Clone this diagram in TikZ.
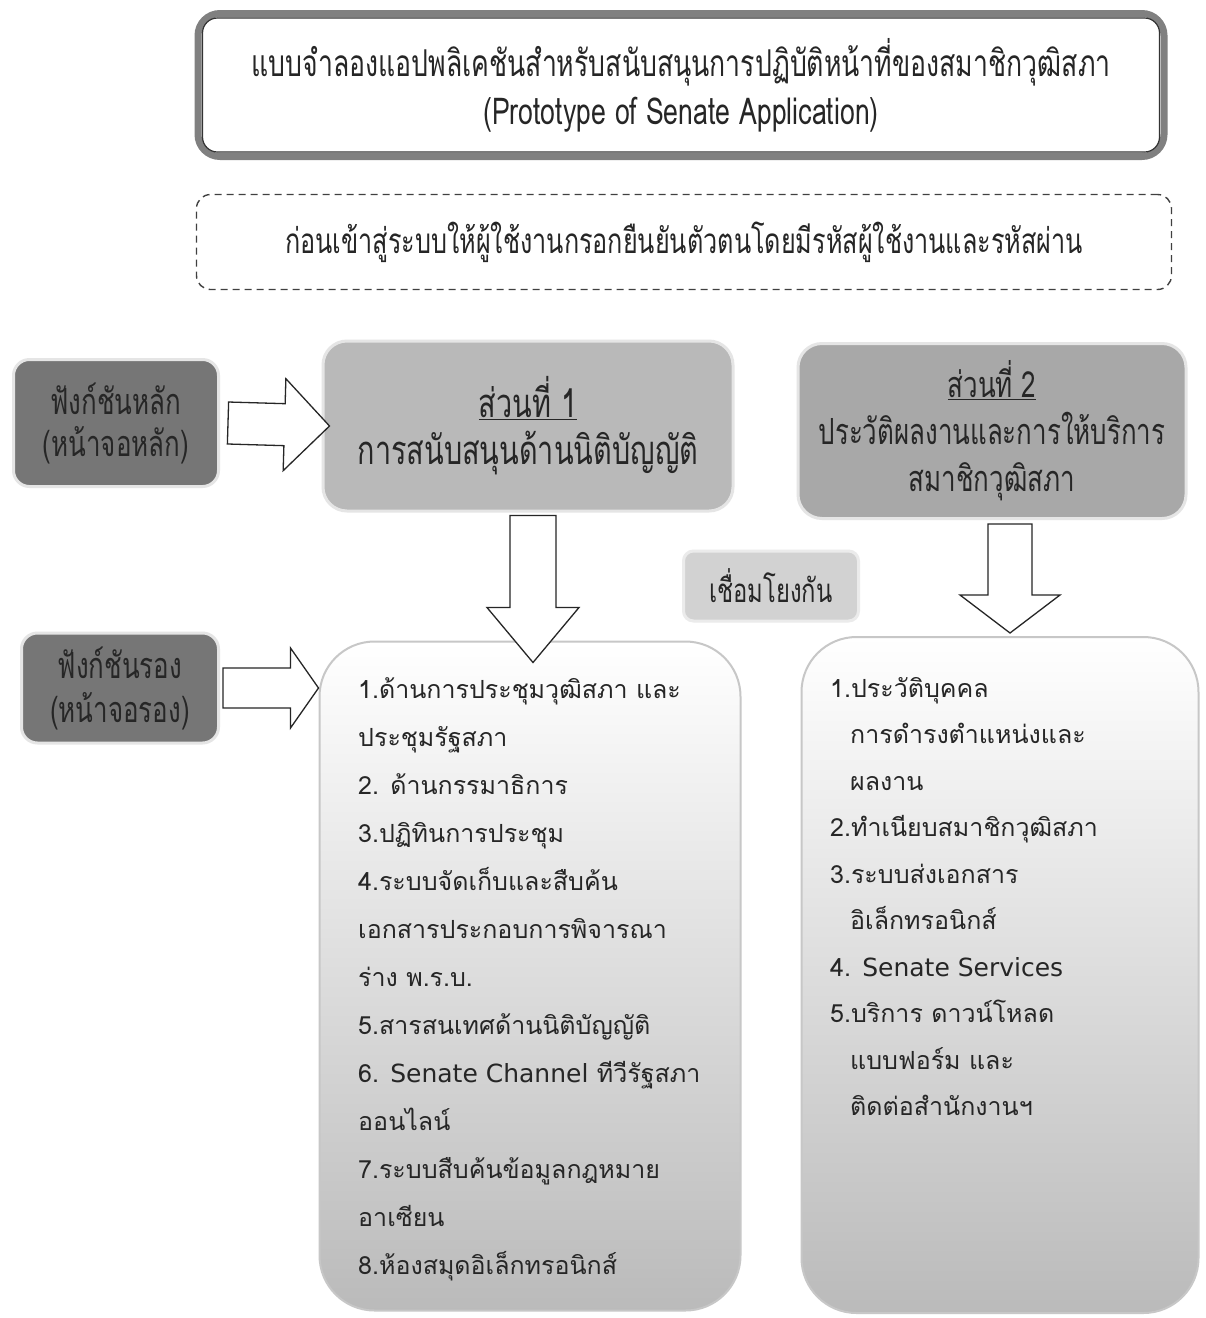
\documentclass[tikz,border=0pt]{standalone}
\usepackage{fontspec}
\setmainfont[Script=Thai]{Loma}
\newfontfamily\headfont[Script=Thai,FakeStretch=0.72]{Loma}
\newfontfamily\latinfont{DejaVu Sans}
\usetikzlibrary{calc,positioning}
\lineskiplimit=-60pt

\definecolor{fndark}{HTML}{767676}
\definecolor{partone}{HTML}{B9B9B9}
\definecolor{parttwo}{HTML}{A8A8A8}
\definecolor{linkgray}{HTML}{D2D2D2}

\newcommand\lat[1]{{\latinfont #1}}

\tikzset{
  every node/.style={text=black!85},
  headtext/.style={font=\headfont\fontsize{36}{47}\selectfont, align=center},
  titlebox/.style={headtext, font=\headfont\fontsize{37}{48}\selectfont, draw=black!50,
    line width=7pt, rounded corners=22pt, minimum width=966pt, minimum height=143pt},
  loginbox/.style={headtext, font=\headfont\fontsize{35}{47}\selectfont, draw=black!75,
    line width=1.4pt, dash pattern=on 7pt off 5pt, rounded corners=14pt,
    minimum width=975pt, minimum height=95pt},
  fnbox/.style={headtext, font=\headfont\fontsize{36}{42}\selectfont, draw=black!10,
    line width=3pt, fill=fndark, rounded corners=16pt},
  partbox/.style={headtext, draw=black!10, line width=3pt, rounded corners=24pt},
  linkbox/.style={headtext, font=\headfont\fontsize{33}{40}\selectfont, draw=black!8,
    line width=3pt, fill=linkgray, rounded corners=10pt,
    minimum width=175pt, minimum height=70pt},
  listbox/.style={draw=black!22, line width=2pt, rounded corners=55pt,
    top color=white, middle color=black!4, bottom color=black!27},
  listtext/.style={font=\fontsize{25}{48}\selectfont, align=left, inner sep=0pt},
  fatarrow/.style n args={3}{draw=black!85, fill=white, line width=1.3pt,
    to path={let \p1=($(\tikztotarget)!#3!(\tikztostart)$) in
      ($(\tikztostart)!#1!90:(\tikztotarget)$) -- ($(\p1)!#1!90:(\tikztotarget)$)
      -- ($(\p1)!#2!90:(\tikztotarget)$) -- (\tikztotarget)
      -- ($(\p1)!#2!-90:(\tikztotarget)$) -- ($(\p1)!#1!-90:(\tikztotarget)$)
      -- ($(\tikztostart)!#1!-90:(\tikztotarget)$) -- cycle}}
}

\begin{document}
\begin{tikzpicture}[x=1pt,y=-1pt]
\useasboundingbox[fill=white] (0,0) rectangle (1206,1318);

% title and login
\node[titlebox] (title) at (681,85)
  {แบบจำลองแอปพลิเคชันสำหรับสนับสนุนการปฏิบัติหน้าที่ของสมาชิกวุฒิสภา\\(Prototype of Senate Application)};
\draw[black!80, line width=1.2pt, rounded corners=15pt]
  ([shift={(8pt,-8pt)}]title.north west) rectangle ([shift={(-8pt,8pt)}]title.south east);
\node[loginbox] (login) at (684,242)
  {ก่อนเข้าสู่ระบบให้ผู้ใช้งานกรอกยืนยันตัวตนโดยมีรหัสผู้ใช้งานและรหัสผ่าน};

% main screens
\node[fnbox, minimum width=205pt, minimum height=127pt] (mainfn) at (116,423) {ฟังก์ชันหลัก\\(หน้าจอหลัก)};
\node[partbox, font=\headfont\fontsize{40}{47}\selectfont, fill=partone,
  minimum width=410pt, minimum height=170pt] (part1) at (528,426)
  {\underline{ส่วนที่ 1}\\การสนับสนุนด้านนิติบัญญัติ};
\node[partbox, fill=parttwo, minimum width=388pt, minimum height=175pt] (part2) at (992,431)
  {\underline{ส่วนที่ 2}\\ประวัติผลงานและการให้บริการ\\สมาชิกวุฒิสภา};
\node[linkbox] (link) at (771,586) {เชื่อมโยงกัน};

% sub screens
\node[fnbox, font=\headfont\fontsize{36}{44}\selectfont, minimum width=197pt,
  minimum height=110pt] (subfn) at (120,688) {ฟังก์ชันรอง\\(หน้าจอรอง)};
\node[listbox, minimum width=421pt, minimum height=669pt] (list1) at (530,976) {};
\node[listbox, minimum width=397pt, minimum height=676pt] (list2) at (1000,975) {};

\node[listtext, anchor=north west] (items1) at (358,677) {%
1.ด้านการประชุมวุฒิสภา และ\\
ประชุมรัฐสภา\\
2. ด้านกรรมาธิการ\\
3.ปฏิทินการประชุม\\
4.ระบบจัดเก็บและสืบค้น\\
เอกสารประกอบการพิจารณา\\
ร่าง พ.ร.บ.\\
5.สารสนเทศด้านนิติบัญญัติ\\
6. \lat{Senate Channel} ทีวีรัฐสภา\\
ออนไลน์\\
7.ระบบสืบค้นข้อมูลกฎหมาย\\
อาเซียน\\
8.ห้องสมุดอิเล็กทรอนิกส์};
\node[listtext, font=\fontsize{25}{46.5}\selectfont, anchor=north west] (items2) at (830,677) {%
1.ประวัติบุคคล\\
\hspace*{20pt}การดำรงตำแหน่งและ\\
\hspace*{20pt}ผลงาน\\
2.ทำเนียบสมาชิกวุฒิสภา\\
3.ระบบส่งเอกสาร\\
\hspace*{20pt}อิเล็กทรอนิกส์\\
4. \lat{Senate Services}\\
5.บริการ ดาวน์โหลด\\
\hspace*{20pt}แบบฟอร์ม และ\\
\hspace*{20pt}ติดต่อสำนักงานฯ};

% block arrows
\draw[fatarrow={21pt}{46pt}{45pt}] ([xshift=8pt]mainfn.east) to ([xshift=8pt]part1.west);
\draw[fatarrow={23pt}{46pt}{55pt}] ([xshift=5pt,yshift=-3pt]part1.south) to ([xshift=3pt,yshift=-22pt]list1.north);
\draw[fatarrow={22pt}{50pt}{38pt}] ([xshift=18pt,yshift=-4pt]part2.south) to ([xshift=10pt,yshift=3pt]list2.north);
\draw[fatarrow={20pt}{40pt}{28pt}] ([xshift=3pt]subfn.east) to (subfn.east -| list1.west);
\end{tikzpicture}
\end{document}
